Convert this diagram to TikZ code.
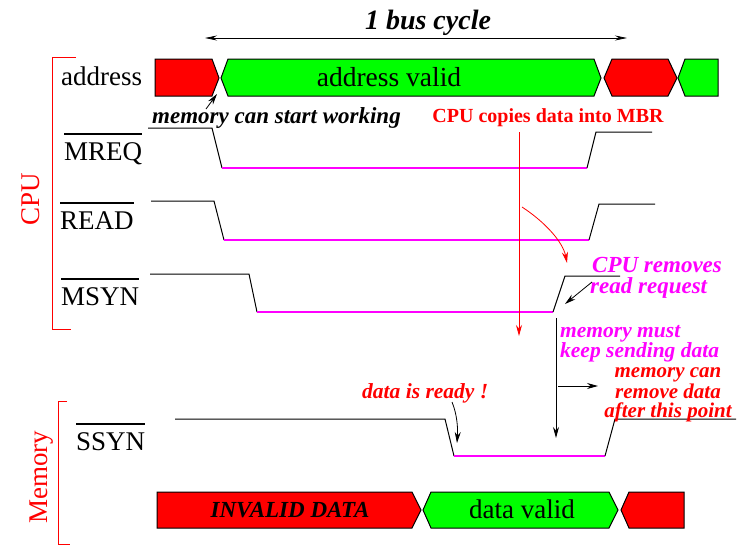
\documentclass[tikz,border=0pt]{standalone}
\usepackage{fontspec}
\setmainfont{Liberation Serif}
\usetikzlibrary{arrows.meta}
\definecolor{mag}{RGB}{255,0,255}
\definecolor{rd}{RGB}{255,0,0}
\definecolor{gr}{RGB}{0,255,0}
\newcommand\ovlbar[1]{\vbox{\hrule height 2pt\kern 7pt\hbox{#1}}}
\begin{document}
\begin{tikzpicture}[x=1pt,y=-1pt,
  sig/.style={line width=1pt, black},
  low/.style={line width=1.2pt, mag},
  bus/.style={draw=black, line width=1pt},
  lab/.style={font=\fontsize{27}{27}\selectfont, inner sep=0pt, anchor=base west},
  bi/.style={font=\bfseries\itshape\fontsize{#1}{#1}\selectfont, inner sep=0pt},
  arr/.style={-{Stealth[length=11pt,width=6pt]}, line width=0.8pt}]
\useasboundingbox (0,0) rectangle (756,555);

% title
\node[bi=28, anchor=base] (title) at (428,29) {1 bus cycle};
\coordinate (cycL) at (205,38);
\coordinate (cycR) at (627,38);
\draw[{Stealth[length=12pt,width=5pt]}-{Stealth[length=12pt,width=5pt]}, line width=0.8pt] (cycL) -- (cycR);

% brackets
\draw[rd, line width=1pt] (76,57) -- (52,57) -- (52,329) -- (71,329);
\node[rd, rotate=90, font=\fontsize{27}{27}\selectfont, inner sep=0pt, anchor=base] (cpu) at (39,199) {CPU};
\draw[rd, line width=1pt] (67,401) -- (58,401) -- (58,544) -- (70,544);
\node[rd, rotate=90, font=\fontsize{27}{27}\selectfont, inner sep=0pt, anchor=base] (mem) at (47,477) {Memory};

% labels
\node[lab] (addrL) at (61,85) {address};
\node[lab] (mreqL) at (64,160) {\ovlbar{MREQ}};
\node[lab] (readL) at (60,229) {\ovlbar{READ}};
\node[lab] (msynL) at (61,305) {\ovlbar{MSYN}};
\node[lab] (ssynL) at (76,450) {\ovlbar{SSYN}};

% address bus
\filldraw[fill=rd, bus] (155,59) -- (212,59) -- (219,78) -- (212,96) -- (155,96) -- cycle;
\filldraw[fill=gr, bus] (221,78) -- (228,59) -- (594,59) -- (601,78) -- (594,96) -- (228,96) -- cycle;
\filldraw[fill=rd, bus] (604,78) -- (612,59) -- (668,59) -- (677,78) -- (668,96) -- (612,96) -- cycle;
\filldraw[fill=gr, bus] (678,78) -- (685,59) -- (718,59) -- (718,96) -- (685,96) -- cycle;
\node[lab, anchor=base, font=\fontsize{27.5}{27.5}\selectfont] (addrV) at (389,86) {address valid};

% MREQ
\draw[sig] (148,128) -- (212,128) -- (222,168);
\draw[low] (222,168) -- (587,168);
\draw[sig] (587,168) -- (596,132) -- (652,132);
% READ
\draw[sig] (151,201) -- (214,201) -- (224,240);
\draw[low] (224,240) -- (589,240);
\draw[sig] (589,240) -- (599,204) -- (655,204);
% MSYN
\draw[sig] (150,274) -- (249,274) -- (257,312);
\draw[low] (257,312) -- (553,312);
\draw[sig] (553,312) -- (565,276) -- (620,276);
% SSYN
\draw[sig] (175,419) -- (445,419) -- (454,456);
\draw[low] (454,456) -- (605,456);
\draw[sig] (605,456) -- (615,419) -- (736,419);

% data bus
\filldraw[fill=rd, bus] (157,492) -- (412,492) -- (421,510) -- (412,528) -- (157,528) -- cycle;
\filldraw[fill=gr, bus] (423,510) -- (431,492) -- (609,492) -- (618,510) -- (609,528) -- (431,528) -- cycle;
\filldraw[fill=rd, bus] (621,510) -- (629,492) -- (684,492) -- (684,528) -- (629,528) -- cycle;
\node[bi=23, anchor=base] (inv) at (290,517) {INVALID DATA};
\node[lab, anchor=base] (dv) at (522,518) {data valid};

% memory can start working
\node[bi=23, anchor=base west] (start) at (152,123) {memory can start working};
\coordinate (stA) at (206,109);
\coordinate (stB) at (217,94);
\draw[arr] (stA) -- (stB);

% CPU copies data into MBR
\node[rd, font=\bfseries\fontsize{20}{20}\selectfont, inner sep=0pt, anchor=base] (copies) at (548,122) {CPU copies data into MBR};
\coordinate (cpTop) at (519,132);
\coordinate (cpBot) at (519,336);
\draw[rd, arr] (cpTop) -- (cpBot);
\coordinate (cvA) at (522,207);
\coordinate (cvB) at (567,263);
\draw[rd, arr] (cvA) .. controls (545,222) and (563,242) .. (cvB);

% CPU removes read request
\node[mag, bi=23, anchor=base west] (rem1) at (592,272) {CPU removes};
\node[mag, bi=23, anchor=base west] (rem2) at (590,293) {read request};
\coordinate (rmA) at (592,282);
\coordinate (rmB) at (565,304);
\draw[arr] (rmA) -- (rmB);

% memory must keep sending data
\coordinate (vkTop) at (556,318);
\coordinate (vkBot) at (556,438);
\draw[arr] (vkTop) -- (vkBot);
\coordinate (hA) at (558,386);
\coordinate (hB) at (598,386);
\draw[arr] (hA) -- (hB);
\node[mag, bi=21.5, anchor=base west] (must1) at (560,337) {memory must};
\node[mag, bi=21.5, anchor=base west] (must2) at (560,357) {keep sending data};

% memory can remove data
\node[rd, font=\bfseries\itshape\fontsize{21}{19}\selectfont, inner sep=0pt, align=center, anchor=base] (can) at (668,417) {memory can\\remove data\\after this point};

% data is ready
\node[rd, bi=21.5, anchor=base west] (ready) at (362,398) {data is ready !};
\coordinate (rdA) at (452,402);
\coordinate (rdB) at (457,443);
\draw[arr] (rdA) .. controls (457,414) and (458,428) .. (rdB);
\end{tikzpicture}
\end{document}
